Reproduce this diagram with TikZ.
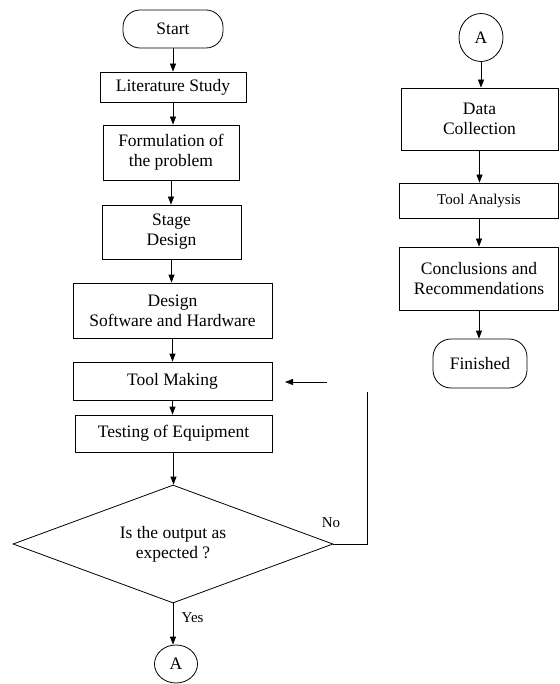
\documentclass[tikz,border=0pt]{standalone}
\usepackage{fontspec}
\setmainfont{Liberation Serif}
\usetikzlibrary{arrows.meta,shapes.geometric}

\begin{document}
\begin{tikzpicture}[x=1pt,y=-1pt,
	box/.style={draw,line width=0.8pt,align=center,inner sep=0pt,
		font=\fontsize{17.5}{20}\selectfont},
	term/.style={box,rounded corners=17pt},
	conn/.style={box,ellipse},
	arrow/.style={line width=0.8pt,-{Triangle[width=6pt,length=8pt]}},
	lbl/.style={font=\fontsize{15}{16}\selectfont}]

\useasboundingbox (0,0) rectangle (559,684);

% left column
\node[term,minimum width=100pt,minimum height=38pt] (start) at (173,29) {Start};
\node[box,minimum width=146pt,minimum height=30pt] (lit) at (173,87) {Literature Study};
\node[box,minimum width=136pt,minimum height=55pt] (form) at (171,152.5) {Formulation of\\the problem};
\node[box,minimum width=139pt,minimum height=54pt] (stage) at (171.5,232) {Stage\\Design};
\node[box,minimum width=199pt,minimum height=55pt] (design) at (172.5,310.5) {Design\\Software and Hardware};
\node[box,minimum width=199pt,minimum height=38pt] (tool) at (172.5,381) {Tool Making};
\node[box,minimum width=197pt,minimum height=37pt] (test) at (173.5,433.5) {Testing of Equipment};
\node[box,diamond,aspect=2.71,minimum width=320pt,minimum height=118pt] (dec) at (173,544) {Is the output as\\expected ?};
\node[conn,minimum width=43pt,minimum height=38pt] (aout) at (176,664) {A};

\foreach \a/\b in {start/lit,lit/form,form/stage,stage/design,design/tool,tool/test,test/dec}{
	\draw[arrow] (\a.south) -- (\a.south |- \b.north);
}
\draw[arrow] (dec.south) -- (dec.south |- aout.north)
	node[lbl,pos=0.35,right=5pt] (yes) {Yes};

% the way back
\node[lbl] (no) at (331,523) {No};
\coordinate (fbcorner) at (367,544);
\coordinate (fbtop) at (367,392);
\coordinate (fbtail) at (327,382);
\coordinate (fbhead) at (285,382);
\draw[line width=0.8pt] (dec.east) -- (fbcorner) -- (fbtop);
\draw[arrow] (fbtail) -- (fbhead);

% right column
\node[conn,minimum width=44pt,minimum height=48pt] (ain) at (481,37.5) {A};
\node[box,minimum width=157pt,minimum height=62pt] (data) at (479.5,119) {Data\\Collection};
\node[box,minimum width=159pt,minimum height=35pt,font=\fontsize{15}{16}\selectfont] (anal) at (479,200.5) {Tool Analysis};
\node[box,minimum width=159pt,minimum height=63pt] (concl) at (479,278.5) {Conclusions and\\Recommendations};
\node[term,minimum width=94pt,minimum height=49pt,rounded corners=18pt] (fin) at (480,363.5) {Finished};

\foreach \a/\b in {ain/data,data/anal,anal/concl,concl/fin}{
	\draw[arrow] (\a.south) -- (\a.south |- \b.north);
}

\end{tikzpicture}
\end{document}
